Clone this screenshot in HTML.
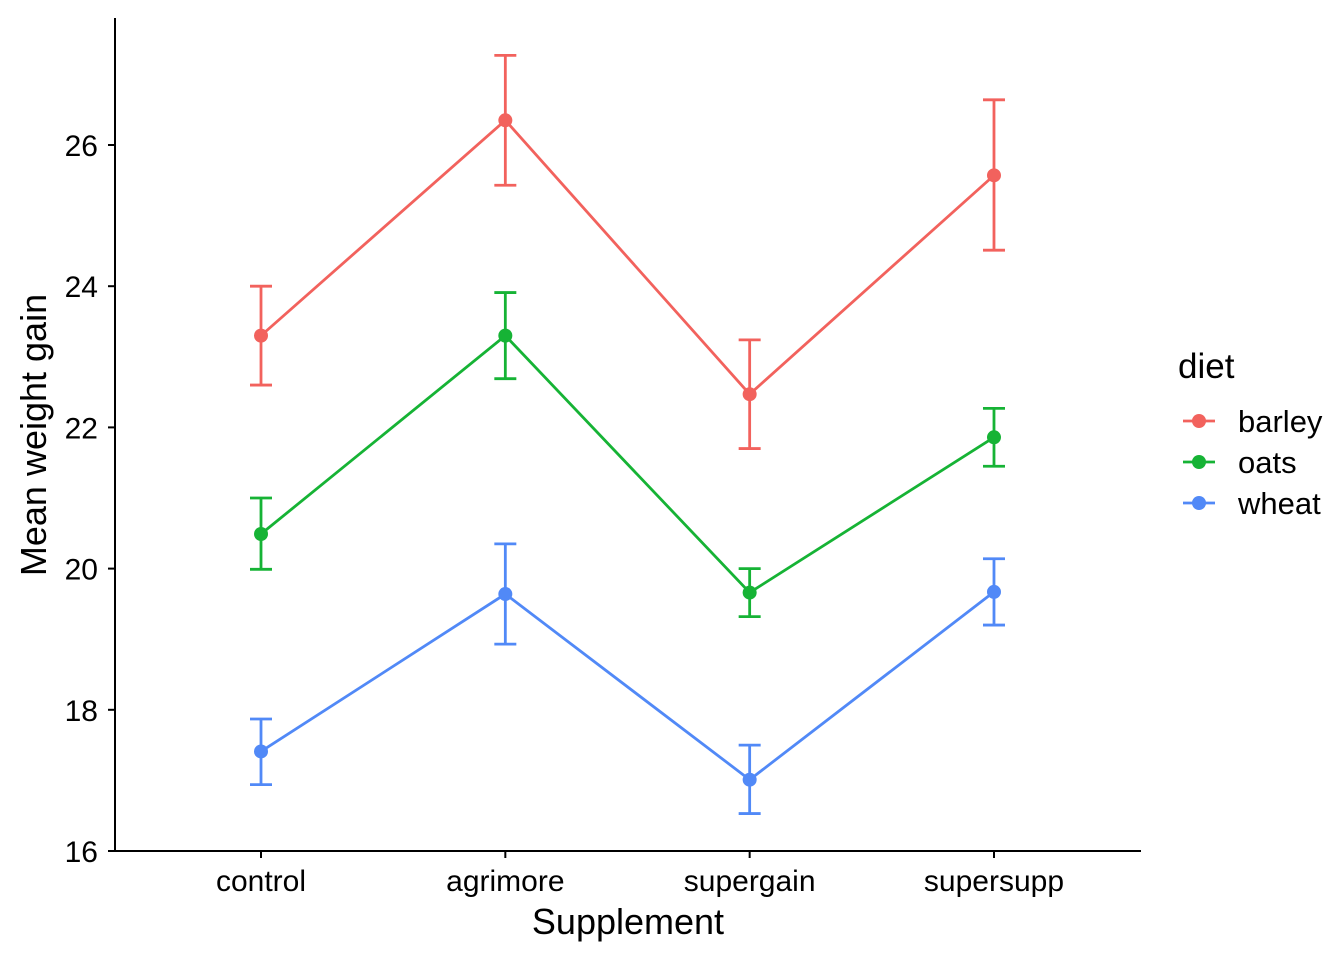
<!DOCTYPE html>
<html><head><meta charset="utf-8"><style>
body{margin:0;background:#fff}
svg{display:block;font-family:"Liberation Sans",Arial,sans-serif}
</style></head><body>
<svg id="chart" width="1344" height="960" viewBox="0 0 1344 960">
<g id="axes"></g>
<g id="series"></g>
<g id="legend"></g>
</svg>
<script>
const categories=["control","agrimore","supergain","supersupp"];
const seriesNames=["barley","oats","wheat"];
const barleyMean=[23.3,26.35,22.47,25.57];
const barleyLow=[22.6,25.43,21.7,24.51];
const barleyHigh=[24.0,27.27,23.24,26.64];
const oatsMean=[20.49,23.3,19.66,21.86];
const oatsLow=[19.99,22.69,19.32,21.45];
const oatsHigh=[21.0,23.91,20.0,22.27];
const wheatMean=[17.41,19.64,17.01,19.67];
const wheatLow=[16.94,18.93,16.53,19.2];
const wheatHigh=[17.87,20.35,17.5,20.14];
const yTicks=[16,18,20,22,24,26];
const colors=["#F2625D","#16B335","#5189F7"];
const NS="http://www.w3.org/2000/svg";
const xs=i=>261+i*244.33;
const ys=v=>851-(v-16)*70.6;
function mk(tag,attrs,parent,text){const e=document.createElementNS(NS,tag);for(const k in attrs)e.setAttribute(k,attrs[k]);if(text!==undefined)e.textContent=text;parent.appendChild(e);return e;}
const axes=document.getElementById('axes');
let e=mk('line',{x1:115,y1:18,x2:115,y2:852,stroke:'#000','stroke-width':2},axes);

e=mk('line',{x1:114,y1:851,x2:1141,y2:851,stroke:'#000','stroke-width':2},axes);

yTicks.forEach(t=>{const y=ys(t);
 let l=mk('line',{x1:108,y1:y,x2:115,y2:y,stroke:'#000','stroke-width':2},axes);
 
 let tx=mk('text',{x:98,y:y+11,'text-anchor':'end','font-size':30,fill:'#000'},axes,String(t));
 });
categories.forEach((c,i)=>{const x=xs(i);
 let l=mk('line',{x1:x,y1:851,x2:x,y2:858,stroke:'#000','stroke-width':2},axes);
 
 let tx=mk('text',{x:x,y:891,'text-anchor':'middle','font-size':30,fill:'#000'},axes,c);
 });
e=mk('text',{x:628,y:934,'text-anchor':'middle','font-size':36,fill:'#000'},axes,'Supplement');

e=mk('text',{x:0,y:0,'text-anchor':'middle','font-size':36,fill:'#000',transform:'translate(46,435) rotate(-90)'},axes,'Mean weight gain');

const means=[barleyMean,oatsMean,wheatMean],lows=[barleyLow,oatsLow,wheatLow],highs=[barleyHigh,oatsHigh,wheatHigh];
const sg=document.getElementById('series');
seriesNames.forEach((s,k)=>{const g=mk('g',{},sg);
 
 let p=mk('polyline',{points:means[k].map((v,i)=>xs(i)+','+ys(v)).join(' '),fill:'none',stroke:colors[k],'stroke-width':2.8},g);
 
 means[k].forEach((v,i)=>{const x=xs(i);
  const eb=mk('path',{d:`M${x-11},${ys(highs[k][i])}H${x+11}M${x},${ys(highs[k][i])}V${ys(lows[k][i])}M${x-11},${ys(lows[k][i])}H${x+11}`,stroke:colors[k],'stroke-width':2.8,fill:'none'},g);
  
  const c=mk('circle',{cx:x,cy:ys(v),r:7,fill:colors[k]},g);
  });});
const lg=document.getElementById('legend');
e=mk('text',{x:1178,y:378,'font-size':35,fill:'#000'},lg,'diet');

seriesNames.forEach((s,k)=>{const y=421+k*41;const g=mk('g',{},lg);
 
 mk('line',{x1:1183,y1:y,x2:1215,y2:y,stroke:colors[k],'stroke-width':2.8},g);
 mk('circle',{cx:1199,cy:y,r:7,fill:colors[k]},g);
 mk('text',{x:1238,y:y+11,'font-size':31,fill:'#000'},g,s);});
</script>
</body></html>
